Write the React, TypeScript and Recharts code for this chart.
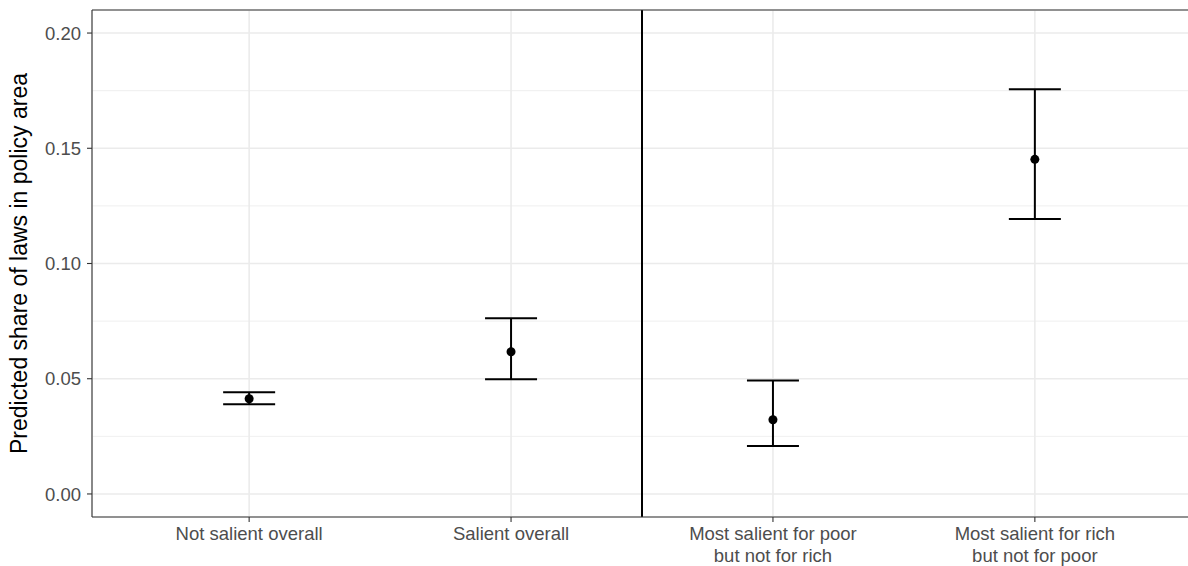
import {
  ComposedChart, Scatter, ErrorBar, XAxis, YAxis,
  CartesianGrid, ReferenceLine
} from "recharts"

const CATEGORIES = [
  "Not salient overall",
  "Salient overall",
  "Most salient for poor\nbut not for rich",
  "Most salient for rich\nbut not for poor",
]
const ESTIMATE = [0.0413, 0.0617, 0.0322, 0.1452]
const LOWER = [0.0389, 0.0498, 0.0208, 0.1193]
const UPPER = [0.0441, 0.0762, 0.0492, 0.1756]

const Y_TICKS = [0, 0.05, 0.1, 0.15, 0.2]
const Y_MINOR = [0.025, 0.075, 0.125, 0.175]
const X_TICKS = [1, 2, 3, 4]
const DIVIDER = 2.5
const Y_DOMAIN = [-0.01, 0.21]

const FONT = "'Liberation Sans', Arial, Helvetica, sans-serif"

const data = CATEGORIES.map((label, i) => ({
  x: i + 1,
  label,
  est: ESTIMATE[i],
  err: [ESTIMATE[i] - LOWER[i], UPPER[i] - ESTIMATE[i]],
}))

function XTick({ x, y, payload }: any) {
  const lines = (CATEGORIES[payload.value - 1] ?? "").split("\n")
  return (
    <text x={x} y={y} textAnchor="middle" fill="#4D4D4D" fontSize={18.5} fontFamily={FONT}>
      {lines.map((line, i) => (
        <tspan key={i} x={x} dy={i === 0 ? 16 : 22}>{line}</tspan>
      ))}
    </text>
  )
}

function YTitle({ viewBox }: any) {
  const cy = viewBox.y + viewBox.height / 2
  const cx = viewBox.x + 19
  return (
    <text
      x={cx} y={cy} transform={`rotate(-90, ${cx}, ${cy})`}
      textAnchor="middle" dominantBaseline="central"
      fill="#000" fontSize={23} fontFamily={FONT}
    >
      Predicted share of laws in policy area
    </text>
  )
}

export default function App() {
  return (
    <div style={{ position: "absolute", left: 0, top: 0, width: 1188, height: 566, overflow: "hidden", background: "#fff" }}>
      {/* plot panel runs a few px past the right edge, like the original */}
      <ComposedChart
        width={1188}
        height={566}
        data={data}
        margin={{ top: 10, right: -4, bottom: 0, left: 0 }}
        style={{ fontFamily: FONT, overflow: "hidden" }}
      >
        <CartesianGrid stroke="#EBEBEB" strokeWidth={1.6} />
        {Y_MINOR.map((v) => (
          <ReferenceLine key={v} y={v} stroke="#EBEBEB" strokeWidth={0.8} />
        ))}
        <XAxis
          type="number"
          dataKey="x"
          domain={[0.4, 4.6]}
          ticks={X_TICKS}
          allowDataOverflow
          height={49}
          axisLine={{ stroke: "#333333", strokeWidth: 1.1 }}
          tickSize={5}
          tickLine={{ stroke: "#333333", strokeWidth: 1.1 }}
          tick={<XTick />}
        />
        <YAxis
          type="number"
          dataKey="est"
          domain={Y_DOMAIN}
          ticks={Y_TICKS}
          allowDataOverflow
          width={92}
          axisLine={{ stroke: "#333333", strokeWidth: 1.1 }}
          tickSize={5}
          tickMargin={6}
          tickLine={{ stroke: "#333333", strokeWidth: 1.1 }}
          tick={{ fill: "#4D4D4D", fontSize: 18.5, fontFamily: FONT }}
          tickFormatter={(v: number) => v.toFixed(2)}
          label={<YTitle />}
        />
        <ReferenceLine x={DIVIDER} stroke="#000" strokeWidth={2} />
        <Scatter
          dataKey="est"
          isAnimationActive={false}
          shape={(p: any) => <circle cx={p.cx} cy={p.cy} r={4.5} fill="#000" />}
        >
          <ErrorBar dataKey="err" direction="y" width={26} stroke="#000" strokeWidth={2} isAnimationActive={false} />
        </Scatter>
        <ReferenceLine y={Y_DOMAIN[1]} stroke="#333333" strokeWidth={1.1} />
      </ComposedChart>
    </div>
  )
}
